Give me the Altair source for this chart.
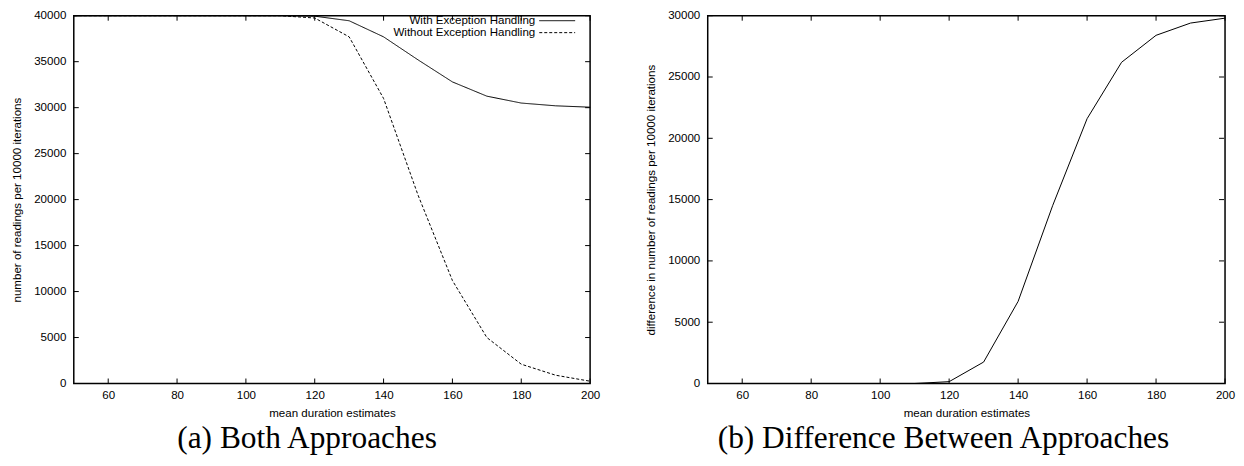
import altair as alt
import pandas as pd

# ---- data ----
x_vals = [50, 60, 70, 80, 90, 100, 110, 120, 130, 140, 150, 160, 170, 180, 190, 200]
with_exc = [40000, 40000, 40000, 40000, 40000, 40000, 40000, 39950, 39450, 37700,
            35200, 32800, 31250, 30500, 30200, 30050]
without_exc = [40000, 40000, 40000, 40000, 40000, 40000, 40000, 39750, 37700, 31000,
               20500, 11200, 5000, 2100, 900, 250]
difference = [0, 0, 0, 0, 0, 0, 0, 150, 1750, 6700, 14500, 21600, 26200, 28400, 29400, 29800]

series_names = ["With Exception Handling", "Without Exception Handling"]
x_ticks = [60, 80, 100, 120, 140, 160, 180, 200]
y_ticks_a = [0, 5000, 10000, 15000, 20000, 25000, 30000, 35000, 40000]
y_ticks_b = [0, 5000, 10000, 15000, 20000, 25000, 30000]

x_title = "mean duration estimates"
y_title_a = "number of readings per 10000 iterations"
y_title_b = "difference in number of readings per 10000 iterations"
caption_a = "(a) Both Approaches"
caption_b = "(b) Difference Between Approaches"

# ---- layout ----
W = 518
H = 369
TICK = 5
FONT = "Liberation Sans"
FS = 11.6

df_a = pd.DataFrame({
    "x": x_vals * 2,
    "y": with_exc + without_exc,
    "series": [series_names[0]] * len(x_vals) + [series_names[1]] * len(x_vals),
})
df_b = pd.DataFrame({"x": x_vals, "y": difference})
xt = pd.DataFrame({"x": x_ticks})
yta = pd.DataFrame({"y": y_ticks_a})
ytb = pd.DataFrame({"y": y_ticks_b})
leg = pd.DataFrame({"name": series_names})

xscale = alt.Scale(domain=[50, 200], nice=False, zero=False)
yscale_a = alt.Scale(domain=[0, 40000], nice=False)
yscale_b = alt.Scale(domain=[0, 30000], nice=False)

x_axis = alt.Axis(values=x_ticks, format="d", title=x_title, labelPadding=6, titlePadding=6)
y_axis_a = alt.Axis(values=y_ticks_a, format="d", title=y_title_a, labelPadding=8, titlePadding=11)
y_axis_b = alt.Axis(values=y_ticks_b, format="d", title=y_title_b, labelPadding=8, titlePadding=11)


def tick_layers(yt, yscale, yaxis):
    X = alt.X("x:Q", scale=xscale, axis=x_axis)
    Y = alt.Y("y:Q", scale=yscale, axis=yaxis)
    bottom = alt.Chart(xt).mark_rule(color="black", strokeWidth=1).encode(
        x=X, y=alt.value(H), y2=alt.value(H - TICK))
    top = alt.Chart(xt).mark_rule(color="black", strokeWidth=1).encode(
        x=X, y=alt.value(0), y2=alt.value(TICK))
    left = alt.Chart(yt).mark_rule(color="black", strokeWidth=1).encode(
        y=Y, x=alt.value(0), x2=alt.value(TICK))
    right = alt.Chart(yt).mark_rule(color="black", strokeWidth=1).encode(
        y=Y, x=alt.value(W), x2=alt.value(W - TICK))
    return [bottom, top, left, right]


lines_a = alt.Chart(df_a).mark_line(color="black", strokeWidth=1).encode(
    x=alt.X("x:Q", scale=xscale, axis=x_axis),
    y=alt.Y("y:Q", scale=yscale_a, axis=y_axis_a),
    strokeDash=alt.StrokeDash("series:N", scale=alt.Scale(domain=series_names, range=[[1, 0], [3, 2]]), legend=None),
)

row_y = [5, 17]
legend_layers = []
dashes = [[1, 0], [3, 2]]
for i, nm in enumerate(series_names):
    base = alt.Chart(leg).transform_filter(alt.datum.name == nm)
    legend_layers.append(base.mark_text(align="right", baseline="middle", font=FONT, fontSize=FS, color="black").encode(
        text="name:N", x=alt.value(W - 55), y=alt.value(row_y[i])))
    legend_layers.append(base.mark_rule(color="black", strokeWidth=1, strokeDash=dashes[i]).encode(
        x=alt.value(W - 51), x2=alt.value(W - 15), y=alt.value(row_y[i])))

panel_a = alt.layer(lines_a, *tick_layers(yta, yscale_a, y_axis_a), *legend_layers).properties(
    width=W, height=H,
    title=alt.TitleParams(text=caption_a, orient="bottom", font="Liberation Serif", fontSize=31.5,
                          fontWeight="normal", color="black", dx=-25, offset=5),
)

line_b = alt.Chart(df_b).mark_line(color="black", strokeWidth=1).encode(
    x=alt.X("x:Q", scale=xscale, axis=x_axis),
    y=alt.Y("y:Q", scale=yscale_b, axis=y_axis_b),
)

panel_b = alt.layer(line_b, *tick_layers(ytb, yscale_b, y_axis_b)).properties(
    width=W + 1, height=H,
    title=alt.TitleParams(text=caption_b, orient="bottom", font="Liberation Serif", fontSize=31.5,
                          fontWeight="normal", color="black", dx=-23, offset=5),
)

chart = alt.hconcat(panel_a, panel_b, spacing=118, bounds="flush").properties(
    padding={"left": 3, "top": 0, "right": 0, "bottom": 0},
    background="white",
).configure_view(
    stroke="black", strokeWidth=1.5
).configure_axis(
    ticks=False, domain=False, grid=False,
    labelFont=FONT, labelFontSize=FS, labelColor="black", labelFlush=False,
    titleFont=FONT, titleFontSize=FS, titleFontWeight="normal", titleColor="black",
)

chart.save("out.html", embed_options={"renderer": "svg", "actions": False})
